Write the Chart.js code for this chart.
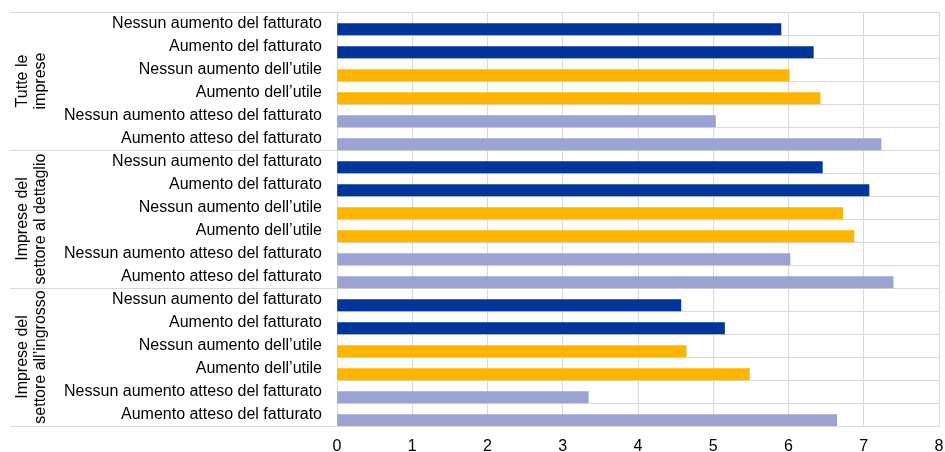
<!DOCTYPE html>
<html>
<head>
<meta charset="utf-8">
<script src="https://cdn.jsdelivr.net/npm/chart.js@4/dist/chart.umd.min.js"></script>
<style>
  body { margin: 0; background: #fff; }
</style>
</head>
<body>
<canvas id="barChart" width="945" height="452"></canvas>
<script>
// categorie e gruppi
const categories = ["Nessun aumento del fatturato", "Aumento del fatturato", "Nessun aumento dell’utile", "Aumento dell’utile", "Nessun aumento atteso del fatturato", "Aumento atteso del fatturato"];
const groups = [["Tutte le", "imprese"], ["Imprese del", "settore al dettaglio"], ["Imprese del", "settore all’ingrosso"]];

// valori
const tutteLeImprese = [5.90, 6.33, 6.01, 6.42, 5.03, 7.23];
const settoreDettaglio = [6.45, 7.07, 6.72, 6.87, 6.02, 7.39];
const settoreIngrosso = [4.57, 5.15, 4.64, 5.48, 3.34, 6.64];

const xTicks = [0, 1, 2, 3, 4, 5, 6, 7, 8];
const barColors = ["#02359b", "#02359b", "#ffb400", "#ffb400", "#9aa3d1", "#9aa3d1"];

const labels = groups.flatMap(() => categories);
const values = [...tutteLeImprese, ...settoreDettaglio, ...settoreIngrosso];
const gridColor = '#d9d9d9';
const font = { family: 'Liberation Sans, Arial, sans-serif', size: 16 };

// niente padding automatico delle scale, lo fisso con layout.padding
function noPad(s) {
  s.paddingTop = 0; s.paddingBottom = 0; s.paddingLeft = 0; s.paddingRight = 0;
}

// etichette dei gruppi e linee di separazione a sinistra
const groupLabels = {
  id: 'groupLabels',
  afterDraw(chart) {
    const ctx = chart.ctx;
    const y = chart.scales.y;
    const left = chart.chartArea.left;
    const n = categories.length;
    const step = y.getPixelForValue(1) - y.getPixelForValue(0);
    ctx.save();
    ctx.strokeStyle = gridColor;
    ctx.lineWidth = 1;
    for (let g = 0; g <= groups.length; g++) {
      const yy = Math.round(y.getPixelForValue(0) - step / 2 + g * n * step) + 0.5;
      ctx.beginPath();
      ctx.moveTo(10, yy);
      ctx.lineTo(left, yy);
      ctx.stroke();
    }
    ctx.fillStyle = '#000';
    ctx.font = font.size + 'px ' + font.family;
    ctx.textAlign = 'center';
    ctx.textBaseline = 'middle';
    groups.forEach((lines, g) => {
      const cy = (y.getPixelForValue(g * n) + y.getPixelForValue(g * n + n - 1)) / 2;
      const xs = [23, 41];
      lines.forEach((t, i) => {
        ctx.save();
        ctx.translate(xs[i], cy);
        ctx.rotate(-Math.PI / 2);
        ctx.fillText(t, 0, 0);
        ctx.restore();
      });
    });
    ctx.restore();
  }
};

new Chart(document.getElementById('barChart').getContext('2d'), {
  type: 'bar',
  data: {
    labels: labels,
    datasets: [
      { label: '', data: [] },
      {
        label: 'valori',
        data: values,
        backgroundColor: labels.map((_, i) => barColors[i % categories.length]),
        borderWidth: 0
      }
    ]
  },
  options: {
    indexAxis: 'y',
    responsive: false,
    animation: false,
    categoryPercentage: 1,
    barPercentage: 1,
    layout: { padding: { top: 12, right: 6 } },
    plugins: { legend: { display: false }, tooltip: { enabled: false } },
    scales: {
      x: {
        min: 0,
        max: 8,
        afterBuildTicks: s => { s.ticks = xTicks.map(v => ({ value: v })); },
        afterFit: s => { s.height = 26; noPad(s); },
        grid: { color: gridColor, drawTicks: false },
        border: { color: gridColor },
        ticks: { color: '#000', font: font, padding: 11 }
      },
      y: {
        afterFit: s => { s.width = 337; noPad(s); },
        grid: { color: gridColor, drawTicks: false, offset: true },
        border: { color: gridColor },
        ticks: { color: '#000', font: font, padding: 15, autoSkip: false }
      }
    }
  },
  plugins: [groupLabels]
});
</script>
</body>
</html>
